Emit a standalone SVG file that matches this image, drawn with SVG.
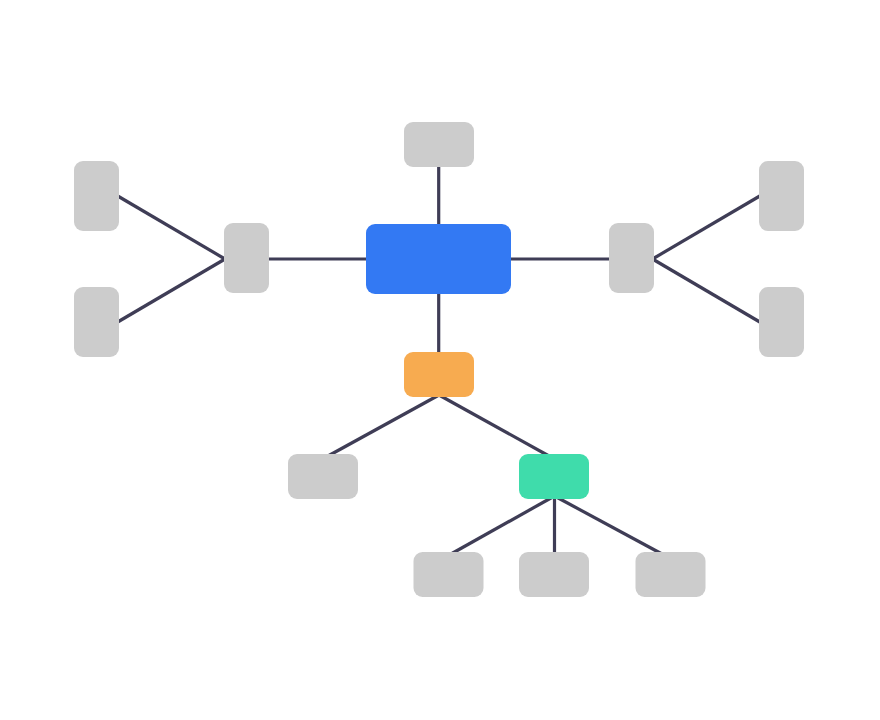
<svg xmlns="http://www.w3.org/2000/svg" width="880" height="720" viewBox="0 0 880 720">
<style>
.e{stroke:#3f3d56;stroke-width:3.2;fill:none;stroke-linecap:butt}
.g{fill:#cccccc}
</style>
<rect width="880" height="720" fill="#ffffff"/>
<g id="connectors">
<line class="e" x1="438.7" y1="166" x2="438.7" y2="225"/>
<line class="e" x1="268" y1="259" x2="367" y2="259"/>
<line class="e" x1="510" y1="259" x2="610" y2="259"/>
<line class="e" x1="438.7" y1="293" x2="438.7" y2="353"/>
<line class="e" x1="116" y1="195" x2="225" y2="259"/>
<line class="e" x1="116" y1="323" x2="225" y2="259"/>
<line class="e" x1="761.5" y1="195" x2="652.5" y2="259"/>
<line class="e" x1="761.5" y1="323" x2="652.5" y2="259"/>
<line class="e" x1="439" y1="395" x2="328" y2="456"/>
<line class="e" x1="439" y1="395" x2="549" y2="456"/>
<line class="e" x1="554.5" y1="496" x2="451" y2="554"/>
<line class="e" x1="554.5" y1="497" x2="554.5" y2="553"/>
<line class="e" x1="554.5" y1="496" x2="662" y2="554"/>
</g>
<g id="n-center"><rect x="366" y="224" width="145" height="70" rx="9" fill="#3379f3"/></g>
<g id="n-top"><rect class="g" x="404" y="122" width="70" height="45" rx="9"/></g>
<g id="n-left"><rect class="g" x="224" y="223" width="45" height="70" rx="9"/></g>
<g id="n-left-top"><rect class="g" x="74" y="161" width="45" height="70" rx="9"/></g>
<g id="n-left-bottom"><rect class="g" x="74" y="287" width="45" height="70" rx="9"/></g>
<g id="n-right"><rect class="g" x="609" y="223" width="45" height="70" rx="9"/></g>
<g id="n-right-top"><rect class="g" x="759" y="161" width="45" height="70" rx="9"/></g>
<g id="n-right-bottom"><rect class="g" x="759" y="287" width="45" height="70" rx="9"/></g>
<g id="n-orange"><rect x="404" y="352" width="70" height="45" rx="9" fill="#f7ab50"/></g>
<g id="n-mid-left"><rect class="g" x="288" y="454" width="70" height="45" rx="9"/></g>
<g id="n-green"><rect x="519" y="454" width="70" height="45" rx="9" fill="#3fdcab"/></g>
<g id="n-b1"><rect class="g" x="413.5" y="552" width="70" height="45" rx="9"/></g>
<g id="n-b2"><rect class="g" x="519" y="552" width="70" height="45" rx="9"/></g>
<g id="n-b3"><rect class="g" x="635.5" y="552" width="70" height="45" rx="9"/></g>
</svg>
